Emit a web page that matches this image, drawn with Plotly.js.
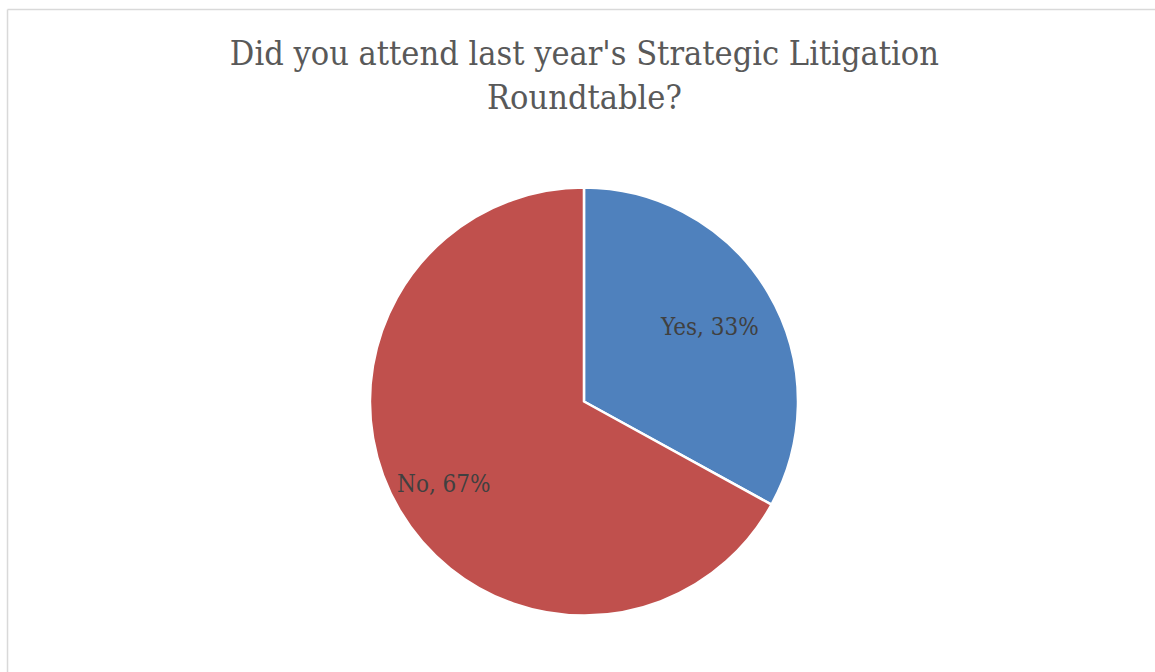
<!DOCTYPE html>
<html>
<head>
<meta charset="utf-8">
<script src="https://cdn.plot.ly/plotly-3.0.1.min.js"></script>
<style>html,body{margin:0;padding:0;background:#fff;}#chart{width:1155px;height:672px;}</style>
</head>
<body>
<div id="chart"></div>
<script>
const categories = ["Yes", "No"];
const values = [33, 67];
const colors = ["#4F81BD", "#C0504D"];
const chartTitle = "Did you attend last year's Strategic Litigation<br>Roundtable?";

const pieDomain = {x: [0.3203, 0.6909], y: [0.0833, 0.7217]};
const W = 1155, H = 672;

const trace = {
  type: "pie",
  labels: categories,
  values: values,
  sort: false,
  direction: "clockwise",
  rotation: 0,
  marker: {colors: colors, line: {color: "#FFFFFF", width: 2.5}},
  textinfo: "none",
  hoverinfo: "label+percent",
  domain: pieDomain,
  showlegend: false
};

// data labels placed along each slice's bisector (computed from the values)
const total = values.reduce((a, b) => a + b, 0);
const cx = (pieDomain.x[0] + pieDomain.x[1]) / 2;
const cy = (pieDomain.y[0] + pieDomain.y[1]) / 2;
const rPx = (pieDomain.x[1] - pieDomain.x[0]) * W / 2;
const labelFrac = [0.68, 0.76];
let cum = 0;
const annotations = categories.map((c, i) => {
  const mid = (cum + values[i] / 2) / total * 2 * Math.PI;
  cum += values[i];
  const d = rPx * labelFrac[i];
  return {
    xref: "paper", yref: "paper",
    x: cx + d * Math.sin(mid) / W,
    y: cy + d * Math.cos(mid) / H,
    text: c + ", " + Math.round(values[i] / total * 100) + "%",
    showarrow: false,
    font: {family: "DejaVu Serif Condensed", size: 24, color: "#404040"},
    xanchor: "center", yanchor: "middle"
  };
});

const layout = {
  width: W, height: H,
  margin: {l: 0, r: 0, t: 0, b: 0},
  paper_bgcolor: "#FFFFFF",
  title: {
    text: chartTitle,
    font: {family: "DejaVu Serif Condensed", size: 34, color: "#595959"},
    x: 0.506, xanchor: "center",
    y: 0.903, yanchor: "top"
  },
  annotations: annotations,
  shapes: [
    {type: "line", xref: "paper", yref: "paper", x0: 0.0065, x1: 1, y0: 0.9858, y1: 0.9858, line: {color: "#D9D9D9", width: 1.5}},
    {type: "line", xref: "paper", yref: "paper", x0: 0.0065, x1: 0.0065, y0: 0, y1: 0.9858, line: {color: "#D9D9D9", width: 1.5}}
  ]
};

Plotly.newPlot("chart", [trace], layout, {displayModeBar: false, staticPlot: true});
</script>
</body>
</html>
